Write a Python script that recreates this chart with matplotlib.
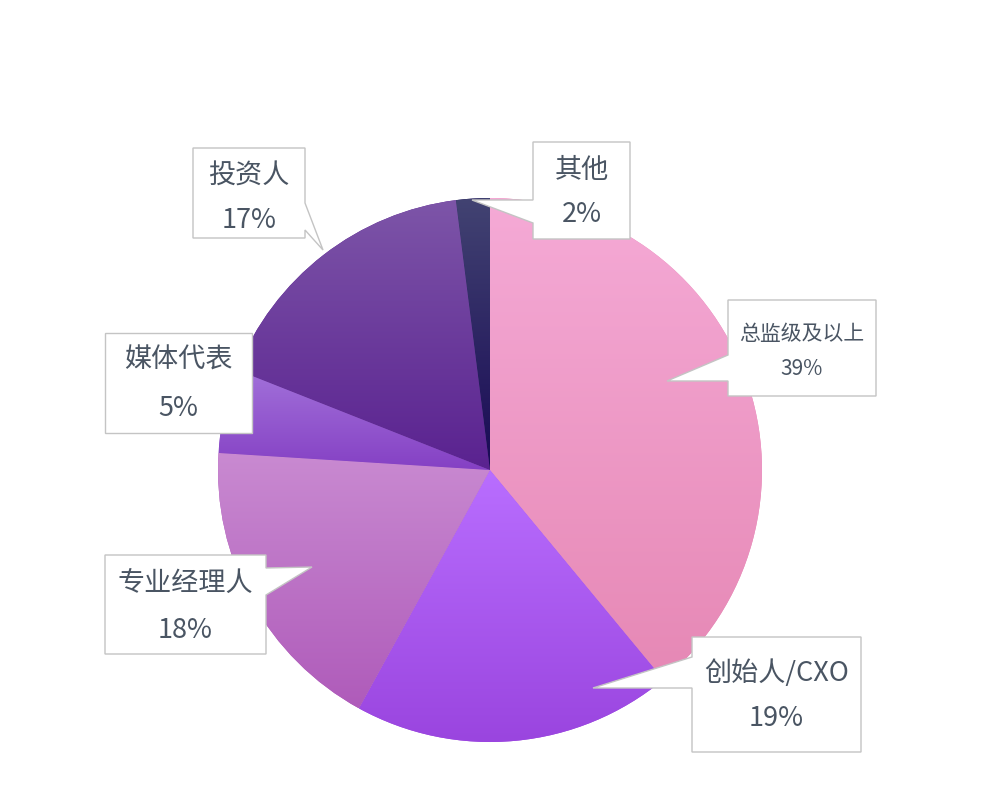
import numpy as np
import matplotlib
matplotlib.use("Agg")
import matplotlib.pyplot as plt
from matplotlib.colors import LinearSegmentedColormap
from matplotlib.patches import Polygon

plt.rcParams['font.family'] = ['Noto Sans CJK SC', 'DejaVu Sans']

# data
labels = ['总监级及以上', '创始人/CXO', '专业经理人', '媒体代表', '投资人', '其他']
values = [39, 19, 18, 5, 17, 2]
pct_labels = ['39%', '19%', '18%', '5%', '17%', '2%']

# gradient colours per slice (top, bottom)
grad_top = ['#F5AAD6', '#B96EFF', '#C98AD1', '#A272DA', '#7D55A8', '#424372']
grad_bot = ['#E688B5', '#9A45DF', '#AF5BBA', '#8540C4', '#5A2290', '#190A55']

H = 800
def Y(py):
    # pixel row (top-down) -> data y
    return H - py

fig = plt.figure(figsize=(10, 8), dpi=100)
ax = fig.add_axes([0, 0, 1, 1])

wedges, _ = ax.pie(values, startangle=90, counterclock=False,
                   center=(490, Y(470)), radius=272, frame=True,
                   wedgeprops=dict(linewidth=0))

grad = np.linspace(0, 1, 256).reshape(-1, 1)
for w, ct, cb in zip(wedges, grad_top, grad_bot):
    w.set_facecolor(cb)
    ext = w.get_path().get_extents()
    cmap = LinearSegmentedColormap.from_list('g', [cb, ct])
    im = ax.imshow(grad, cmap=cmap, origin='lower', aspect='auto',
                   extent=(ext.x0, ext.x1, ext.y0, ext.y1),
                   interpolation='bilinear', zorder=2)
    im.set_clip_path(w)

# callouts: box (x0, y0, x1, y1) in pixels, pointer side, attach rows, tip
callouts = {
    '总监级及以上': dict(box=(728, 300, 876, 396), side='left', att=(355, 381), tip=(667, 381), fs=15,
                   ty=(334, 369)),
    '创始人/CXO': dict(box=(692, 637, 861, 752), side='left', att=(657, 688), tip=(593, 688), fs=19.5,
                    ty=(673, 719)),
    '专业经理人': dict(box=(105, 555, 266, 654), side='right', att=(568, 595), tip=(312, 567), fs=19.5,
                  ty=(583, 630)),
    '媒体代表': dict(box=(105, 333, 252, 433), side=None, att=None, tip=None, fs=19.5,
                 ty=(360, 408)),
    '投资人': dict(box=(193, 148, 305, 238), side='right', att=(203, 230), tip=(323, 250), fs=19.5,
                ty=(176, 221)),
    '其他': dict(box=(533, 142, 630, 239), side='left', att=(200, 223), tip=(472, 200), fs=19.5,
               ty=(170, 215)),
}

text_color = '#4A5563'
edge_color = '#C4C4C4'
for lab, pct in zip(labels, pct_labels):
    c = callouts[lab]
    x0, y0, x1, y1 = c['box']
    if c['side'] == 'right':
        a1, a2 = c['att']
        pts = [(x0, y0), (x1, y0), (x1, a1), c['tip'], (x1, a2), (x1, y1), (x0, y1)]
    elif c['side'] == 'left':
        a1, a2 = c['att']
        pts = [(x0, y0), (x1, y0), (x1, y1), (x0, y1), (x0, a2), c['tip'], (x0, a1)]
    else:
        pts = [(x0, y0), (x1, y0), (x1, y1), (x0, y1)]
    pts = [(px, Y(py)) for px, py in pts]
    ax.add_patch(Polygon(pts, closed=True, facecolor='white', edgecolor=edge_color,
                         linewidth=1.0, joinstyle='miter', zorder=5))
    cx = (x0 + x1) / 2
    ax.text(cx, Y(c['ty'][0]), lab, ha='center', va='center', fontsize=c['fs'],
            color=text_color, zorder=6)
    ax.text(cx, Y(c['ty'][1]), pct, ha='center', va='center', fontsize=c['fs'],
            color=text_color, zorder=6)

ax.set_xlim(0, 1000)
ax.set_ylim(0, 800)
ax.set_aspect('equal')
ax.axis('off')

fig.savefig('out.png', dpi=100, facecolor='white')
